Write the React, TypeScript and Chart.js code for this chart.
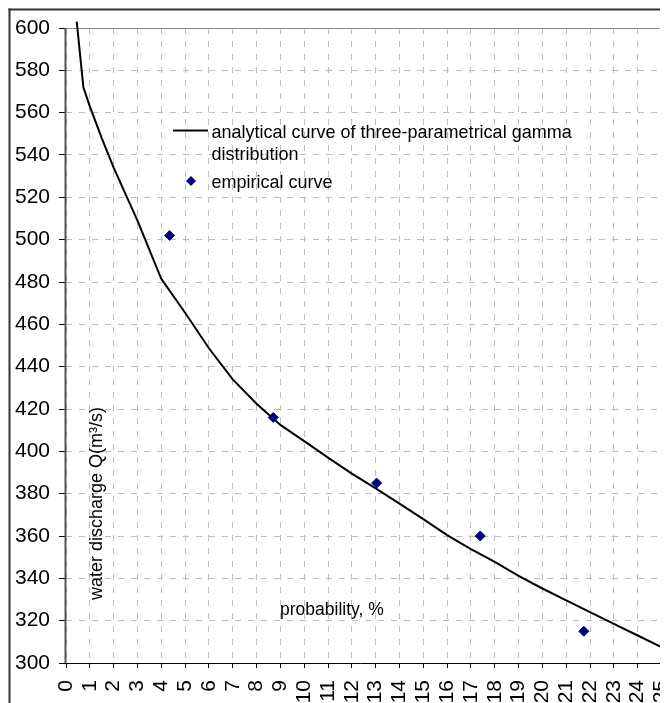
import React, { useEffect, useRef } from "react";
import { Chart, registerables } from "chart.js";

Chart.register(...registerables);

// probability, % (x) and water discharge (y) of the analytical gamma curve
const curveX = [0.45, 0.73, 1, 1.5, 2, 3, 4, 5, 6, 7, 8, 9, 10, 11, 12, 13, 14, 15, 16, 17, 18, 19, 20, 21, 22, 23, 24, 25];
const curveY = [603, 572, 563, 548, 534, 509, 481.5, 465.5, 448.7, 434, 422.5, 412.5, 404.8, 397, 389.5, 382.5, 375.3, 368, 360.4, 353.8, 347.8, 341.2, 335.2, 329.6, 324, 318.5, 313, 307.5];

// empirical points
const empX = [4.35, 8.7, 13.04, 17.39, 21.74];
const empY = [502, 416, 385, 360, 315];

const xMin = 0;
const xMax = 25;
const xStep = 1;
const yMin = 300;
const yMax = 600;
const yStep = 20;

const curveLabel = ["analytical curve of three-parametrical gamma", "distribution"];
const empLabel = "empirical curve";
const yTitle = "water discharge Q(m³/s)";
const xTitle = "probability, %";

const FONT = '"Liberation Sans", Arial, sans-serif';

export default function App() {
  const ref = useRef<HTMLCanvasElement>(null);

  useEffect(() => {
    const canvas = ref.current;
    if (!canvas) return;
    const W = 660;
    const H = 695;

    const decor = {
      id: "decor",
      beforeDraw(chart: any) {
        const ctx = chart.ctx;
        ctx.save();
        ctx.fillStyle = "#333";
        ctx.fillRect(0.5, 0.5, W, 2);
        ctx.fillRect(0.5, 0.5, 2, H);
        ctx.restore();
      },
      beforeDatasetsDraw(chart: any) {
        const { ctx, chartArea: a } = chart;
        ctx.save();
        ctx.strokeStyle = "#8a8a8a";
        ctx.lineWidth = 1;
        ctx.beginPath();
        ctx.moveTo(a.left, a.top + 0.5);
        ctx.lineTo(a.right - 0.5, a.top + 0.5);
        ctx.lineTo(a.right - 0.5, a.bottom);
        ctx.stroke();
        // left axis
        ctx.strokeStyle = "#555";
        ctx.lineWidth = 2;
        ctx.beginPath();
        ctx.moveTo(a.left - 0.5, a.top);
        ctx.lineTo(a.left - 0.5, a.bottom + 1);
        ctx.stroke();
        // bottom axis
        ctx.strokeStyle = "#000";
        ctx.lineWidth = 1;
        ctx.beginPath();
        ctx.moveTo(a.left - 7, a.bottom + 0.5);
        ctx.lineTo(a.right, a.bottom + 0.5);
        ctx.stroke();
        ctx.restore();
      },
      afterDraw(chart: any) {
        const ctx = chart.ctx;
        ctx.save();
        ctx.fillStyle = "#000";
        ctx.textBaseline = "alphabetic";
        ctx.textAlign = "left";
        // legend
        ctx.font = `18px ${FONT}`;
        ctx.strokeStyle = "#000";
        ctx.lineWidth = 2;
        ctx.beginPath();
        ctx.moveTo(165, 122.5);
        ctx.lineTo(200, 122.5);
        ctx.stroke();
        ctx.fillText(curveLabel[0], 203.5, 129.5);
        ctx.fillText(curveLabel[1], 203.5, 151.5);
        ctx.fillStyle = "#000080";
        const dx = 183, dy = 173, r = 5;
        ctx.beginPath();
        ctx.moveTo(dx, dy - r);
        ctx.lineTo(dx + r, dy);
        ctx.lineTo(dx, dy + r);
        ctx.lineTo(dx - r, dy);
        ctx.closePath();
        ctx.fill();
        ctx.fillStyle = "#000";
        ctx.fillText(empLabel, 203.5, 180);
        // x title inside plot
        ctx.font = `17.5px ${FONT}`;
        ctx.fillText(xTitle, 272, 607);
        // y title inside plot, rotated
        ctx.font = `18px ${FONT}`;
        ctx.translate(93.5, 592);
        ctx.rotate(-Math.PI / 2);
        ctx.fillText(yTitle, 0, 0);
        ctx.restore();
      },
    };

    const chart = new Chart(canvas, {
      type: "scatter",
      data: {
        datasets: [
          {
            label: curveLabel.join(" "),
            data: curveX.map((x, i) => ({ x, y: curveY[i] })),
            showLine: true,
            borderColor: "#000",
            backgroundColor: "#000",
            borderWidth: 2,
            pointRadius: 0,
            tension: 0,
            clip: false,
            order: 2,
          } as any,
          {
            label: empLabel,
            data: empX.map((x, i) => ({ x, y: empY[i] })),
            showLine: false,
            pointStyle: "rectRot",
            pointRadius: 5,
            pointHoverRadius: 5,
            backgroundColor: "#000080",
            borderColor: "#000080",
            borderWidth: 1,
            order: 1,
          } as any,
        ],
      },
      options: {
        responsive: false,
        animation: false,
        events: [],
        layout: { padding: { top: 20, right: 6.5, left: 0, bottom: 0 } },
        plugins: { legend: { display: false }, tooltip: { enabled: false } },
        scales: {
          x: {
            type: "linear",
            min: xMin,
            max: xMax,
            afterFit(scale: any) {
              scale.height = 40;
              scale.paddingLeft = 0;
              scale.paddingRight = 0;
            },
            ticks: {
              stepSize: xStep,
              autoSkip: false,
              minRotation: 90,
              maxRotation: 90,
              padding: 12,
              color: "#000",
              font: { family: FONT, size: 21 },
            },
            grid: {
              color: "#bdbdbd",
              lineWidth: 1,
              tickLength: 5,
              tickColor: "#000",
              tickWidth: 1,
              tickBorderDash: [],
            },
            border: { display: false, dash: [6, 7] },
          },
          y: {
            type: "linear",
            min: yMin,
            max: yMax,
            afterFit(scale: any) {
              scale.width = 58;
              scale.paddingTop = 0;
              scale.paddingBottom = 0;
            },
            ticks: {
              stepSize: yStep,
              padding: 9,
              color: "#000",
              font: { family: FONT, size: 21 },
            },
            grid: {
              color: "#bdbdbd",
              lineWidth: 1,
              tickLength: 7,
              tickColor: "#000",
              tickWidth: 1,
              tickBorderDash: [],
            },
            border: { display: false, dash: [6, 7] },
          },
        },
      },
      plugins: [decor],
    });
    return () => chart.destroy();
  }, []);

  return (
    <canvas
      ref={ref}
      width={660}
      height={695}
      style={{ display: "block", width: 660, height: 695 }}
    />
  );
}
